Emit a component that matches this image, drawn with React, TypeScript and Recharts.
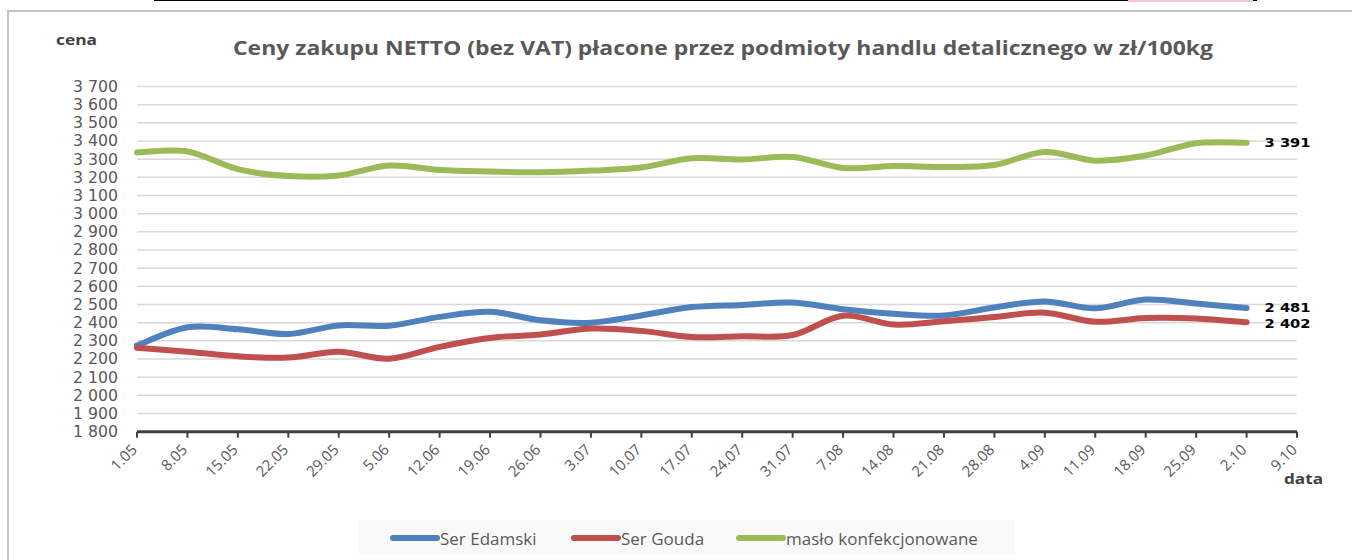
import React from 'react';
import { LineChart, Line, XAxis, YAxis, CartesianGrid, Legend, LabelList } from 'recharts';

const categories = ['1.05', '8.05', '15.05', '22.05', '29.05', '5.06', '12.06', '19.06', '26.06', '3.07', '10.07', '17.07', '24.07', '31.07', '7.08', '14.08', '21.08', '28.08', '4.09', '11.09', '18.09', '25.09', '2.10', '9.10'];
const serEdamski = [2275, 2375, 2364, 2338, 2385, 2383, 2432, 2460, 2413, 2400, 2440, 2486, 2498, 2511, 2474, 2449, 2440, 2484, 2517, 2479, 2527, 2505, 2481];
const serGouda = [2262, 2240, 2215, 2208, 2240, 2202, 2267, 2316, 2335, 2368, 2355, 2321, 2325, 2332, 2438, 2390, 2408, 2431, 2455, 2405, 2426, 2423, 2402];
const masloKonf = [3337, 3342, 3245, 3207, 3210, 3265, 3240, 3232, 3228, 3237, 3254, 3305, 3298, 3312, 3252, 3262, 3257, 3268, 3340, 3292, 3320, 3388, 3391];
const yTicks = [1800, 1900, 2000, 2100, 2200, 2300, 2400, 2500, 2600, 2700, 2800, 2900, 3000, 3100, 3200, 3300, 3400, 3500, 3600, 3700];
const seriesNames = ['Ser Edamski', 'Ser Gouda', 'masło konfekcjonowane'];
const seriesKeys = ['edam', 'gouda', 'maslo'];
const seriesColors = ['#4f81bd', '#c0504d', '#9bbb59'];
const seriesValues = [serEdamski, serGouda, masloKonf];
const endLabelShift = [-1, 1, 0];

const titleText = 'Ceny zakupu NETTO (bez VAT) płacone przez podmioty handlu detalicznego w zł/100kg';

const data = categories.map((c, i) => {
  const row: any = { date: c };
  seriesKeys.forEach((k, s) => {
    row[k] = i < seriesValues[s].length ? seriesValues[s][i] : null;
  });
  return row;
});

const fmt = (v: number) => {
  const t = Math.floor(v / 1000);
  const r = Math.round(v % 1000);
  return t > 0 ? `${t} ${String(r).padStart(3, '0')}` : String(r);
};

// Catmull-Rom style smoothing similar to Excel's smoothed lines
const smoothCurve: any = (context: any) => {
  let pts: number[][] = [];
  return {
    areaStart() {},
    areaEnd() {},
    lineStart() { pts = []; },
    point(x: number, y: number) { pts.push([+x, +y]); },
    lineEnd() {
      const n = pts.length;
      if (!n) return;
      context.moveTo(pts[0][0], pts[0][1]);
      if (n === 2) { context.lineTo(pts[1][0], pts[1][1]); return; }
      for (let i = 0; i < n - 1; i++) {
        const p0 = pts[Math.max(0, i - 1)];
        const p1 = pts[i];
        const p2 = pts[i + 1];
        const p3 = pts[Math.min(n - 1, i + 2)];
        context.bezierCurveTo(
          p1[0] + (p2[0] - p0[0]) / 6, p1[1] + (p2[1] - p0[1]) / 6,
          p2[0] - (p3[0] - p1[0]) / 6, p2[1] - (p3[1] - p1[1]) / 6,
          p2[0], p2[1]
        );
      }
    },
  };
};

const FONT = '"Open Sans", "Noto Sans", sans-serif';
const DJ = '"DejaVu Sans", sans-serif';

const XTick = (props: any) => {
  const { x, y, payload } = props;
  const px = x + 1;
  const py = y + 11;
  return (
    <text x={px} y={py} transform={`rotate(-45, ${px}, ${py})`} textAnchor="end" fill="#595959" fontSize={15} fontFamily={FONT}>
      {payload.value}
    </text>
  );
};

const YTick = (props: any) => {
  const { x, y, payload } = props;
  const s = fmt(payload.value);
  return (
    <text x={x} y={y} dy="0.36em" textAnchor="end" fill="#595959" fontSize={15} fontFamily={DJ} textLength={s.length * 9} lengthAdjust="spacingAndGlyphs">
      {s}
    </text>
  );
};

const makeEndLabel = (lastIdx: number, shift: number) => (props: any) => {
  const { x, y, index, value } = props;
  if (index !== lastIdx || value == null) return null;
  return (
    <text x={x + 18} y={y + shift} dy="0.36em" fill="#000" fontSize={13} fontWeight="bold" fontFamily={DJ} textLength={46} lengthAdjust="spacingAndGlyphs">
      {fmt(value)}
    </text>
  );
};

const LegendContent = () => (
  <div style={{ width: '100%', height: '100%', background: '#f9f9f9', position: 'relative', fontFamily: FONT, fontSize: 17, color: '#595959' }}>
    {seriesNames.map((n, i) => {
      const lefts = [31, 212, 377];
      return (
        <div key={n} style={{ position: 'absolute', left: lefts[i], top: 6, display: 'flex', alignItems: 'center', whiteSpace: 'nowrap', height: 24 }}>
          <div style={{ width: 50, height: 6, borderRadius: 3, background: seriesColors[i] }} />
          <span>{n}</span>
        </div>
      );
    })}
  </div>
);

export default function App() {
  const lastIdx = serEdamski.length - 1;
  return (
    <div style={{ position: 'absolute', left: 0, top: 0, width: 1352, height: 560, background: '#fff', overflow: 'hidden' }}>
      {/* table fragment at the top */}
      {[[154, 430], [581, 219], [798, 167], [963, 294]].map(([l, w], i) => (
        <div key={i} style={{ position: 'absolute', left: l, top: -20, width: w, height: 21, border: '3px solid #000', boxSizing: 'border-box' }} />
      ))}
      <div style={{ position: 'absolute', left: 1128, top: 0, width: 125, height: 2, background: '#f4c7cc' }} />
      {/* chart frame */}
      <div style={{ position: 'absolute', left: 7, top: 10, width: 1400, height: 600, borderLeft: '2px solid #c4c4c4', borderTop: '2px solid #c4c4c4' }} />

      <div style={{ position: 'absolute', left: 0, top: 0 }}>
        <LineChart width={1352} height={560} data={data} margin={{ top: 86.5, right: 55, bottom: 68.3, left: 77 }}>
          <CartesianGrid vertical={false} stroke="#d9d9d9" strokeWidth={1.5} />
          <XAxis
            dataKey="date"
            scale="point"
            padding={{ left: 0, right: 0 }}
            interval={0}
            height={60}
            axisLine={{ stroke: '#404040', strokeWidth: 3 }}
            tickLine={{ stroke: '#404040', strokeWidth: 2 }}
            tickSize={6}
            tick={<XTick />}
          />
          <YAxis
            domain={[1800, 3700]}
            ticks={yTicks}
            interval={0}
            width={60}
            axisLine={false}
            tickLine={false}
            tickSize={6}
            tickMargin={13}
            tick={<YTick />}
          />
          <Legend
            layout="horizontal"
            verticalAlign="middle"
            align="center"
            wrapperStyle={{ position: 'absolute', left: 359, top: 520, width: 656, height: 35 }}
            content={<LegendContent />}
          />
          {seriesKeys.map((k, i) => (
            <Line
              key={k}
              dataKey={k}
              name={seriesNames[i]}
              stroke={seriesColors[i]}
              strokeWidth={6}
              strokeLinecap="round"
              type={smoothCurve}
              dot={false}
              activeDot={false}
              isAnimationActive={false}
            >
              <LabelList dataKey={k} content={makeEndLabel(lastIdx, endLabelShift[i])} />
            </Line>
          ))}
        </LineChart>
      </div>

      <svg width={1352} height={560} style={{ position: 'absolute', left: 0, top: 0, pointerEvents: 'none' }}>
        <text x={233} y={55} fontSize={20} fontWeight="bold" fill="#595959" fontFamily={FONT} textLength={980} lengthAdjust="spacingAndGlyphs">
          {titleText}
        </text>
        <text x={56} y={45} fontSize={14} fontWeight="bold" fill="#404040" fontFamily={FONT} textLength={41} lengthAdjust="spacingAndGlyphs">
          cena
        </text>
        <text x={1284} y={484} fontSize={15} fontWeight="bold" fill="#404040" fontFamily={FONT} textLength={39} lengthAdjust="spacingAndGlyphs">
          data
        </text>
      </svg>
    </div>
  );
}
